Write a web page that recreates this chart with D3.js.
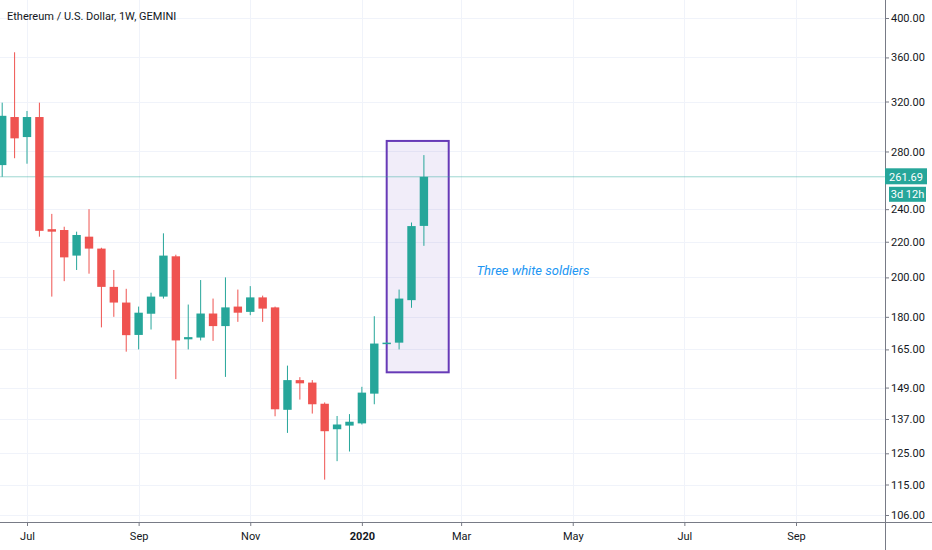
<!DOCTYPE html>
<html>
<head>
<meta charset="utf-8">
<script src="https://cdn.jsdelivr.net/npm/d3@7"></script>
<style>
  html, body { margin: 0; padding: 0; background: #fff; overflow: hidden; }
  svg { display: block; font-family: Roboto, "Noto Sans", sans-serif; }
</style>
</head>
<body>
<div id="chart"></div>
<script>
// ETH/USD weekly candles (Gemini)
const weeks = [
  '2019-06-17', '2019-06-24', '2019-07-01', '2019-07-08', '2019-07-15', '2019-07-22',
  '2019-07-29', '2019-08-05', '2019-08-12', '2019-08-19', '2019-08-26', '2019-09-02',
  '2019-09-09', '2019-09-16', '2019-09-23', '2019-09-30', '2019-10-07', '2019-10-14',
  '2019-10-21', '2019-10-28', '2019-11-04', '2019-11-11', '2019-11-18', '2019-11-25',
  '2019-12-02', '2019-12-09', '2019-12-16', '2019-12-23', '2019-12-30', '2020-01-06',
  '2020-01-13', '2020-01-20', '2020-01-27', '2020-02-03', '2020-02-10'
];
const opens = [
  270, 307, 291, 307, 227.5, 227,
  212, 223, 216, 195, 187, 171.5,
  181.5, 190, 211.6, 169.5, 170.3, 181.6,
  175.6, 185, 182.4, 189.6, 184.6, 140.4,
  152, 151, 142.7, 133.3, 134.6, 135.4,
  146.6, 167.6, 168, 188.2, 229.5
];
const highs = [
  319, 365, 312, 319, 237, 229,
  226, 240, 216.5, 204, 194, 185,
  192, 225, 212.5, 186, 198.6, 189,
  200, 193.6, 195.4, 190.5, 185, 158,
  153.2, 152, 143.2, 138.1, 138.8, 149.3,
  180.3, 168.2, 193.6, 231.6, 277.3
];
const lows = [
  261.7, 275, 271, 223, 190, 198,
  204, 202, 175, 180, 164, 165,
  174, 189, 152.4, 165, 169, 168.8,
  153.3, 177.6, 180.8, 177.6, 138, 132,
  144.3, 139, 116.5, 122.4, 125.6, 135,
  142.5, 167.5, 165, 184.4, 217.6
];
const closes = [
  308, 290, 307, 226.5, 226, 211,
  224, 216, 195, 187, 171.4, 182,
  190, 212, 169, 170.5, 181.6, 175.6,
  184.6, 182, 189.6, 184, 140.6, 152,
  150.7, 142.5, 132.6, 135, 136, 147,
  167.6, 168, 189, 229.4, 261.69
];

const priceTicks = [106, 115, 125, 137, 149, 165, 180, 200, 220, 240, 280, 320, 360, 400];
const dateTicks = ['2019-07-01', '2019-09-02', '2019-11-04', '2020-01-06',
                   '2020-03-02', '2020-05-04', '2020-07-06', '2020-09-07'];
const dateTickLabels = ['Jul', 'Sep', 'Nov', '2020', 'Mar', 'May', 'Jul', 'Sep'];

// pattern box + note
const boxWeeks = ['2020-01-20', '2020-02-24'];
const boxPrices = [155.2, 288];
const noteText = 'Three white soldiers';
const noteAt = ['2020-03-09', 204];

const lastPrice = 261.69;
const countdown = '3d 12h';
const title = 'Ethereum / U.S. Dollar, 1W, GEMINI';

const width = 932, height = 550;
const plotRight = 885, plotBottom = 522;
const UP = '#26a69a', DOWN = '#ef5350';

const parse = d3.utcParse('%Y-%m-%d');
const candles = weeks.map((w, i) => ({
  date: parse(w), open: opens[i], high: highs[i], low: lows[i], close: closes[i]
}));

const svg = d3.select('#chart')
  .append('svg')
  .attr('width', width)
  .attr('height', height);

// Scales
const x = d3.scaleUtc()
  .domain([parse('2019-07-01'), parse('2020-09-07')])
  .range([27, 796]);

const y = d3.scaleLog()
  .domain([106, 400])
  .range([515, 18]);

svg.append('clipPath').attr('id', 'plot')
  .append('rect')
  .attr('width', plotRight)
  .attr('height', plotBottom);

// Grid
const grid = svg.append('g').attr('stroke', '#f0f3fa').attr('stroke-width', 1);
grid.selectAll('.vgrid')
  .data(dateTicks)
  .join('line')
  .attr('x1', d => Math.round(x(parse(d))) + 0.5)
  .attr('x2', d => Math.round(x(parse(d))) + 0.5)
  .attr('y1', 0)
  .attr('y2', plotBottom);
grid.selectAll('.hgrid')
  .data(priceTicks)
  .join('line')
  .attr('x1', 0)
  .attr('x2', plotRight)
  .attr('y1', d => Math.round(y(d)) + 0.5)
  .attr('y2', d => Math.round(y(d)) + 0.5);

// Pattern box (behind candles)
const plot = svg.append('g').attr('clip-path', 'url(#plot)');
plot.append('rect')
  .attr('x', x(parse(boxWeeks[0])))
  .attr('y', y(boxPrices[1]))
  .attr('width', x(parse(boxWeeks[1])) - x(parse(boxWeeks[0])))
  .attr('height', y(boxPrices[0]) - y(boxPrices[1]))
  .attr('fill', 'rgba(103, 58, 183, 0.09)')
  .attr('stroke', '#673ab7')
  .attr('stroke-width', 2);

// Last price line
plot.append('line')
  .attr('x1', 0)
  .attr('x2', plotRight)
  .attr('y1', y(lastPrice))
  .attr('y2', y(lastPrice))
  .attr('stroke', UP)
  .attr('stroke-opacity', 0.45)
  .attr('stroke-width', 1);

// Candles
const bodyW = 8.4;
const bars = plot.selectAll('.candle')
  .data(candles)
  .join('g')
  .attr('class', 'candle')
  .attr('fill', d => d.close >= d.open ? UP : DOWN)
  .attr('stroke', d => d.close >= d.open ? UP : DOWN);

bars.append('line')
  .attr('x1', d => x(d.date))
  .attr('x2', d => x(d.date))
  .attr('y1', d => y(d.high))
  .attr('y2', d => y(d.low))
  .attr('stroke-width', 1);

bars.append('rect')
  .attr('x', d => x(d.date) - bodyW / 2)
  .attr('y', d => y(Math.max(d.open, d.close)))
  .attr('width', bodyW)
  .attr('height', d => Math.max(1.5, Math.abs(y(d.open) - y(d.close))))
  .attr('stroke', 'none');

// Note
plot.append('text')
  .attr('x', x(parse(noteAt[0])) + 3)
  .attr('y', y(noteAt[1]))
  .attr('dy', '0.35em')
  .attr('fill', '#2196f3')
  .style('font-size', '13px')
  .style('font-style', 'italic')
  .text(noteText);

// Axes frame
svg.append('line')
  .attr('x1', plotRight + 0.5).attr('x2', plotRight + 0.5)
  .attr('y1', 0).attr('y2', height)
  .attr('stroke', '#787b86');
svg.append('line')
  .attr('x1', 0).attr('x2', width)
  .attr('y1', plotBottom + 0.5).attr('y2', plotBottom + 0.5)
  .attr('stroke', '#787b86');

// Price axis
const yAxis = svg.append('g')
  .attr('transform', `translate(${plotRight},0)`)
  .call(d3.axisRight(y)
    .tickValues(priceTicks)
    .tickFormat(d3.format('.2f'))
    .tickSize(4)
    .tickPadding(2));
yAxis.select('.domain').remove();
yAxis.selectAll('line').attr('stroke', '#787b86');
yAxis.selectAll('text')
  .attr('fill', '#131722')
  .style('font-size', '11px')
  .style('font-family', 'Roboto, sans-serif');

// Time axis
const xAxis = svg.append('g')
  .attr('transform', `translate(0,${plotBottom})`)
  .call(d3.axisBottom(x)
    .tickValues(dateTicks.map(parse))
    .tickFormat((d, i) => dateTickLabels[i])
    .tickSize(4)
    .tickPadding(6));
xAxis.select('.domain').remove();
xAxis.selectAll('line').attr('stroke', '#787b86');
xAxis.selectAll('text')
  .attr('fill', '#131722')
  .style('font-size', '11px')
  .style('font-family', 'Roboto, sans-serif')
  .style('font-weight', (d, i) => dateTickLabels[i] === '2020' ? 'bold' : 'normal');

// Last price tag + countdown
const tagY = y(lastPrice);
svg.append('rect')
  .attr('x', plotRight).attr('y', tagY - 8.5)
  .attr('width', 42).attr('height', 16)
  .attr('fill', UP);
svg.append('text')
  .attr('x', plotRight + 21).attr('y', tagY)
  .attr('dy', '0.35em')
  .attr('text-anchor', 'middle')
  .attr('fill', '#fff')
  .style('font-size', '11px')
  .text(d3.format('.2f')(lastPrice));
svg.append('rect')
  .attr('x', plotRight + 4).attr('y', tagY + 10)
  .attr('width', 37).attr('height', 15)
  .attr('fill', UP);
svg.append('text')
  .attr('x', plotRight + 22.5).attr('y', tagY + 17.5)
  .attr('dy', '0.35em')
  .attr('text-anchor', 'middle')
  .attr('fill', '#fff')
  .style('font-size', '11px')
  .text(countdown);

// Title
svg.append('text')
  .attr('x', 7)
  .attr('y', 16)
  .attr('dy', '0.35em')
  .attr('fill', '#131722')
  .style('font-size', '11px')
  .text(title);
</script>
</body>
</html>
